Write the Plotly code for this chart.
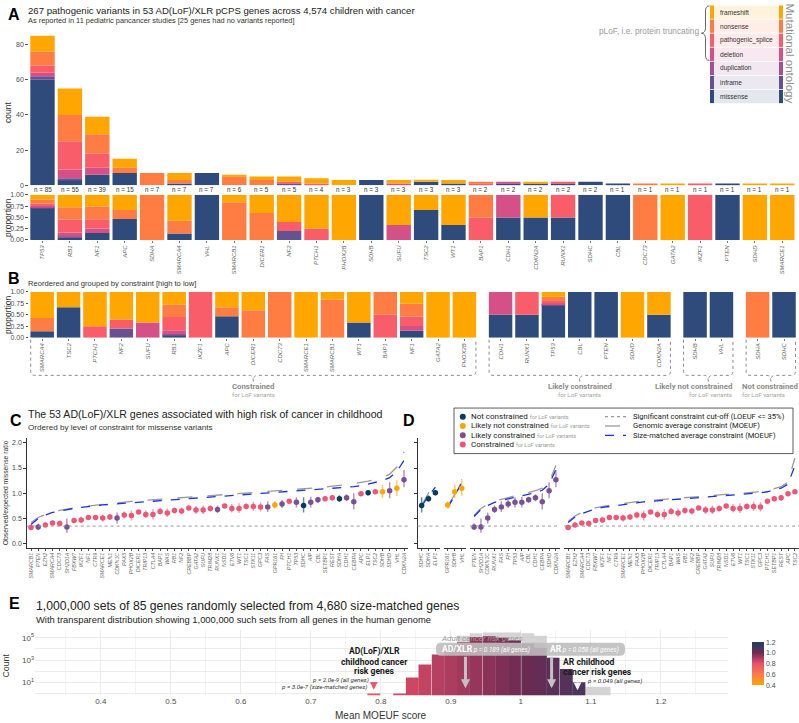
import plotly.graph_objects as go

W, H = 799, 723
def X(px): return px / W
def Y(py): return 1 - py / H
def P(px, py): return f"{X(px):.5f},{Y(py):.5f}"

# ---------------- Panel A / B data ----------------
genes_A = ["TP53","RB1","NF1","APC","SDHA","SMARCA4","VHL","SMARCB1","DICER1","NF2","PTCH1","PHOX2B","SDHB","SUFU",
           "TSC2","WT1","BAP1","CDH1","CDKN2A","RUNX1","SDHC","CBL","CDC73","GATA2","IKZF1","PTEN","SDHD","SMARCE1"]
categories = ["missense","inframe","duplication","deletion","pathogenic_splice","nonsense","frameshift"]
missense    = [60,3,6,7,0,1,7,0,0,0,0,0,3,0,2,1,0,1,1,1,2,1,0,0,0,1,0,0]
inframe     = [2,1,0,0,0,0,0,0,0,1,0,0,0,0,0,0,0,0,0,0,0,0,0,0,0,0,0,0]
duplication = [0,0,0,0,0,0,0,0,0,0,0,0,0,0,0,0,0,0,0,0,0,0,0,0,0,0,0,0]
deletion    = [2,5,4,0,0,0,0,0,0,0,0,0,0,1,0,0,0,1,0,0,0,0,0,0,0,0,0,0]
splice      = [4,16,8,0,0,0,0,0,0,1,1,0,0,0,0,0,1,0,0,1,0,0,0,0,1,0,0,0]
nonsense    = [8,15,11,3,7,2,0,5,3,0,0,0,0,0,0,0,1,0,0,0,0,0,1,0,0,0,0,0]
frameshift  = [9,15,10,5,0,4,0,1,2,3,3,3,0,2,1,2,0,0,1,0,0,0,0,1,0,0,1,1]
counts = {"missense": missense, "inframe": inframe, "duplication": duplication, "deletion": deletion,
          "pathogenic_splice": splice, "nonsense": nonsense, "frameshift": frameshift}

genes_B = ["SMARCA4","TSC2","PTCH1","NF2","SUFU","RB1","IKZF1","APC","DICER1","CDC73","SMARCE1","SMARCB1","WT1","BAP1",
           "NF1","GATA2","PHOX2B","CDH1","RUNX1","TP53","CBL","PTEN","SDHD","CDKN2A","SDHB","VHL","SDHA","SDHC"]
group_sizes_B = [17, 7, 2, 2]
group_names_B = ["Constrained", "Likely constrained", "Likely not constrained", "Not constrained"]

# ---------------- Panel C / D data ----------------
genes_C = ["SMARCB1","PTEN","EZH2","SMARCA4","CDC73","SH2D1A","FBXW7","IKZF1","NF1","CTR9","SMARCE1","MEN1","CDKN1C",
           "PAX5","PHOX2B","DICER1","TRIP13","CTLA4","BAP1","WAS","RB1","NF2","CREBBP","GATA2","SUFU","TRIM28","RUNX1",
           "NSD1","ETV6","WT1","TSC1","STK11","GPC3","FAS","GPR161","FH","PTCH1","TP53","SDHC","AIP","CBL","SETBP1",
           "REST","SDHA","CDH1","CEBPA","APC","ELP1","TSC2","SDHB","SDHD","VHL","CDKN2A"]
oe_mis = [0.32,0.33,0.37,0.41,0.40,0.33,0.46,0.47,0.52,0.52,0.51,0.53,0.51,0.57,0.56,0.63,0.58,0.58,0.64,0.61,0.66,
          0.65,0.71,0.67,0.67,0.70,0.68,0.75,0.70,0.70,0.74,0.74,0.73,0.73,0.77,0.79,0.84,0.82,0.76,0.82,0.87,0.89,
          0.91,0.89,0.91,0.83,0.99,1.01,1.03,1.03,1.05,1.10,1.27]
oe_lo = [0.28,0.27,0.33,0.38,0.34,0.22,0.41,0.41,0.49,0.48,0.44,0.47,0.40,0.50,0.46,0.59,0.51,0.48,0.58,0.53,0.60,
         0.58,0.68,0.59,0.59,0.64,0.61,0.71,0.62,0.61,0.68,0.65,0.64,0.63,0.70,0.71,0.80,0.72,0.62,0.72,0.81,0.84,
         0.85,0.83,0.84,0.68,0.96,0.96,1.00,0.90,0.90,0.95,1.12]
oe_hi = [0.37,0.40,0.41,0.44,0.46,0.50,0.51,0.54,0.55,0.57,0.58,0.59,0.62,0.64,0.66,0.67,0.66,0.69,0.71,0.70,0.72,
         0.72,0.74,0.75,0.76,0.76,0.76,0.79,0.79,0.80,0.80,0.83,0.82,0.84,0.84,0.87,0.88,0.92,0.92,0.93,0.93,0.94,
         0.97,0.96,0.98,1.00,1.02,1.06,1.06,1.17,1.22,1.26,1.46]
lof_class = ["C","LC","C","C","C","LC","C","C","C","C","C","C","LC","C","C","C","C","C","C","C","C","C","C","C","C",
             "C","LC","C","C","C","C","C","C","LC","LNC","LC","C","LC","NC","LC","LC","C","C","NC","LC","LC","C","NC",
             "C","LNC","LC","LNC","LC"]
genomic_avg_C = [0.42,0.52,0.58,0.63,0.66,0.69,0.71,0.73,0.75,0.77,0.78,0.79,0.81,0.83,0.84,0.85,0.86,0.87,0.88,0.89,
                 0.90,0.91,0.92,0.93,0.94,0.95,0.96,0.97,0.98,0.99,1.00,1.01,1.02,1.03,1.04,1.05,1.06,1.07,1.09,1.10,
                 1.11,1.12,1.14,1.15,1.17,1.19,1.21,1.24,1.27,1.31,1.38,1.52,1.82]
size_matched_C = [0.38,0.50,0.57,0.62,0.65,0.68,0.70,0.72,0.74,0.75,0.77,0.78,0.79,0.81,0.82,0.83,0.84,0.85,0.86,0.87,
                  0.88,0.89,0.89,0.90,0.91,0.92,0.93,0.94,0.95,0.96,0.97,0.98,0.99,1.00,1.01,1.02,1.03,1.04,1.05,1.06,
                  1.07,1.08,1.09,1.10,1.12,1.13,1.15,1.18,1.21,1.25,1.31,1.43,1.65]
d_groups = ["NC", "LNC", "LC", "C"]
genomic_avg_D_NC = [0.76, 1.00, 1.25]
size_matched_D_NC = [0.74, 0.95, 1.12]
genomic_avg_D_LNC = [0.74, 0.98, 1.28]
size_matched_D_LNC = [0.72, 0.95, 1.22]
genomic_avg_D_LC = [0.56,0.70,0.78,0.84,0.88,0.92,0.95,0.98,1.01,1.05,1.10,1.22,1.55]
size_matched_D_LC = [0.54,0.68,0.76,0.82,0.86,0.89,0.92,0.95,0.98,1.01,1.06,1.18,1.47]
genomic_avg_D_C = [0.44,0.55,0.62,0.67,0.71,0.74,0.76,0.78,0.80,0.82,0.83,0.85,0.86,0.87,0.88,0.89,0.90,0.91,0.92,
                   0.93,0.94,0.95,0.96,0.97,0.98,0.99,1.00,1.02,1.04,1.06,1.09,1.13,1.22,1.70]
size_matched_D_C = [0.42,0.53,0.60,0.65,0.69,0.72,0.74,0.76,0.78,0.80,0.81,0.83,0.84,0.85,0.86,0.87,0.88,0.89,0.90,
                    0.91,0.92,0.93,0.94,0.95,0.96,0.97,0.98,0.99,1.01,1.03,1.06,1.10,1.18,1.55]

# ---------------- Panel E data ----------------
moeuf_bins = [0.790,0.808,0.827,0.845,0.863,0.882,0.900,0.918,0.936,0.955,0.973,0.991,1.010,1.028,1.046,1.065,
              1.083,1.101,1.119]
counts_size_matched = [1,0,1,28,400,3200,16000,40000,120000,140000,100000,60000,30000,12000,1600,160,10,0,0]
counts_all_genes = [0,0,0,0,0,100,20000,150000,250000,300000,300000,300000,250000,150000,1600,80,10,4,4]

# ---------------- styling ----------------
ont_colors = {"missense": "#2f4b7c", "inframe": "#665191", "duplication": "#a05195", "deletion": "#d45087",
              "pathogenic_splice": "#f95d6a", "nonsense": "#ff7c43", "frameshift": "#ffa600"}
cls_colors = {"NC": "#003f5c", "LNC": "#ffa600", "LC": "#7a5195", "C": "#ef5675"}
cls_rgba = {"NC": "rgba(0,63,92,0.6)", "LNC": "rgba(255,166,0,0.6)", "LC": "rgba(122,81,149,0.6)",
            "C": "rgba(239,86,117,0.55)"}
FONT = "Liberation Sans, Arial, sans-serif"
ROBO = "Roboto, sans-serif"
GREY = "#4d4d4d"

fig = go.Figure()

# ---- Panel A: counts and proportions ----
xA = list(range(len(genes_A)))
totals = [sum(counts[c][i] for c in categories) for i in xA]
base_c = [0] * len(xA)
base_p = [0.0] * len(xA)
for c in categories:
    vals = counts[c]
    props = [v / t for v, t in zip(vals, totals)]
    fig.add_bar(x=xA, y=vals, base=list(base_c), xaxis="x", yaxis="y", width=0.89,
                marker=dict(color=ont_colors[c], line=dict(width=0)), name=c, hoverinfo="skip")
    fig.add_bar(x=xA, y=props, base=list(base_p), xaxis="x2", yaxis="y2", width=0.89,
                marker=dict(color=ont_colors[c], line=dict(width=0)), name=c, hoverinfo="skip")
    base_c = [b + v for b, v in zip(base_c, vals)]
    base_p = [b + v for b, v in zip(base_p, props)]

# ---- Panel B ----
GAP = 0.37
xB = []
k = 0
for gi, n in enumerate(group_sizes_B):
    for j in range(n):
        xB.append(k + GAP * gi)
        k += 1
idxB = [genes_A.index(g) for g in genes_B]
baseB = [0.0] * len(genes_B)
for c in categories:
    props = [counts[c][i] / totals[i] for i in idxB]
    fig.add_bar(x=xB, y=props, base=list(baseB), xaxis="x3", yaxis="y3", width=0.89,
                marker=dict(color=ont_colors[c], line=dict(width=0)), hoverinfo="skip")
    baseB = [b + p for b, p in zip(baseB, props)]

# ---- Panel C ----
xC = list(range(len(genes_C)))
fig.add_scatter(x=xC, y=genomic_avg_C, mode="lines", xaxis="x4", yaxis="y4",
                line=dict(color="#9a9a9a", width=1.3, dash="longdash"), hoverinfo="skip")
fig.add_scatter(x=xC, y=size_matched_C, mode="lines", xaxis="x4", yaxis="y4",
                line=dict(color="#1f2ff0", width=1.3, dash="dash"), hoverinfo="skip")
for cl in d_groups:
    ii = [i for i in xC if lof_class[i] == cl]
    fig.add_scatter(x=ii, y=[oe_mis[i] for i in ii], mode="markers", xaxis="x4", yaxis="y4",
                    marker=dict(color=cls_colors[cl], size=5.5),
                    error_y=dict(type="data", symmetric=False, array=[oe_hi[i] - oe_mis[i] for i in ii],
                                 arrayminus=[oe_mis[i] - oe_lo[i] for i in ii], thickness=1.5, width=0,
                                 color=cls_rgba[cl]), hoverinfo="skip")

# ---- Panel D ----
d_lines = {"NC": (genomic_avg_D_NC, size_matched_D_NC), "LNC": (genomic_avg_D_LNC, size_matched_D_LNC),
           "LC": (genomic_avg_D_LC, size_matched_D_LC), "C": (genomic_avg_D_C, size_matched_D_C)}
d_axes = ["x5", "x6", "x7", "x8"]
d_ticks = {}
for ax, cl in zip(d_axes, d_groups):
    ii = [i for i in xC if lof_class[i] == cl]
    xs = list(range(len(ii)))
    d_ticks[ax] = [genes_C[i] for i in ii]
    g, s = d_lines[cl]
    fig.add_scatter(x=xs, y=g, mode="lines", xaxis=ax, yaxis="y5",
                    line=dict(color="#9a9a9a", width=1.3, dash="longdash"), hoverinfo="skip")
    fig.add_scatter(x=xs, y=s, mode="lines", xaxis=ax, yaxis="y5",
                    line=dict(color="#1f2ff0", width=1.3, dash="dash"), hoverinfo="skip")
    fig.add_scatter(x=xs, y=[oe_mis[i] for i in ii], mode="markers", xaxis=ax, yaxis="y5",
                    marker=dict(color=cls_colors[cl], size=5.5),
                    error_y=dict(type="data", symmetric=False, array=[oe_hi[i] - oe_mis[i] for i in ii],
                                 arrayminus=[oe_mis[i] - oe_lo[i] for i in ii], thickness=1.5, width=0,
                                 color=cls_rgba[cl]), hoverinfo="skip")

# ---- Panel E ----
fig.add_bar(x=moeuf_bins, y=[c if c > 0 else None for c in counts_all_genes], xaxis="x9", yaxis="y9",
            width=0.0183, marker=dict(color="rgba(205,205,205,0.85)", line=dict(width=0)), hoverinfo="skip")
fig.add_bar(x=moeuf_bins, y=[c if c > 0 else None for c in counts_size_matched], xaxis="x9", yaxis="y9",
            width=0.0183, hoverinfo="skip",
            marker=dict(color=moeuf_bins, cmin=0.4, cmax=1.2, line=dict(width=0),
                        colorscale=[[0, "#ffa600"], [0.25, "#fb7a4f"], [0.5, "#e8506b"], [0.75, "#6e2a52"],
                                    [1, "#1d4266"]],
                        showscale=True,
                        colorbar=dict(x=X(742), xanchor="left", y=Y(698), yanchor="bottom", len=64 / H,
                                      lenmode="fraction", thickness=12, outlinewidth=0, ticks="",
                                      tickvals=[0.4, 0.6, 0.8, 1.0, 1.2], ticktext=["0.4", "0.6", "0.8", "1.0", "1.2"],
                                      tickfont=dict(size=7, color=GREY, family=FONT))))

# ---------------- axes ----------------
tick_small = dict(size=7, color=GREY, family=FONT)
def gene_ticks(names):
    return [f"<i>{n}</i>" for n in names]

layout_axes = dict(
    xaxis=dict(domain=[X(28.8), X(796)], range=[-0.5, 27.5], anchor="y", showticklabels=False, ticks="",
               showgrid=False, zeroline=False),
    yaxis=dict(domain=[Y(183), Y(28)], range=[0, 87.3], anchor="x", tickvals=[0, 20, 40, 60, 80], ticks="outside",
               ticklen=2.5, tickcolor="#555", tickfont=tick_small, showgrid=False, zeroline=False),
    xaxis2=dict(domain=[X(28.8), X(796)], range=[-0.5, 27.5], anchor="y2", tickvals=xA,
                ticktext=gene_ticks(genes_A), tickangle=-90, ticks="outside", ticklen=2, tickcolor="#777",
                tickfont=dict(size=6, color="#666", family=FONT), showgrid=False, zeroline=False),
    yaxis2=dict(domain=[Y(238.3), Y(192.7)], range=[0, 1], anchor="x2", tickvals=[0, 0.25, 0.5, 0.75, 1],
                ticktext=["0.00", "0.25", "0.50", "0.75", "1.00"], ticks="outside", ticklen=2.5, tickcolor="#555",
                tickfont=tick_small, showgrid=False, zeroline=False),
    xaxis3=dict(domain=[X(29), X(797.2)], range=[-0.5, xB[-1] + 0.5], anchor="y3", tickvals=xB,
                ticktext=gene_ticks(genes_B), tickangle=-90, ticks="outside", ticklen=2, tickcolor="#777",
                tickfont=dict(size=6, color="#666", family=FONT), showgrid=False, zeroline=False),
    yaxis3=dict(domain=[Y(337), Y(290.7)], range=[0, 1], anchor="x3", tickvals=[0, 0.25, 0.5, 0.75, 1],
                ticktext=["0.00", "0.25", "0.50", "0.75", "1.00"], ticks="outside", ticklen=2.5, tickcolor="#555",
                tickfont=tick_small, showgrid=False, zeroline=False),
    xaxis4=dict(domain=[X(26.7), X(408.3)], range=[-0.6, 52.6], anchor="y4", tickvals=xC,
                ticktext=gene_ticks(genes_C), tickangle=-90, ticks="outside", ticklen=2, tickcolor="#555",
                tickfont=dict(size=5.3, color="#666", family=FONT), showline=True, linecolor="#333",
                linewidth=1, showgrid=False, zeroline=False),
    yaxis4=dict(domain=[Y(549), Y(438)], range=[-0.078, 2.1], anchor="x4", tickvals=[0, 0.5, 1, 1.5, 2],
                ticktext=["0.0", "0.5", "1.0", "1.5", "2.0"], ticks="outside", ticklen=2.5, tickcolor="#333",
                tickfont=tick_small, showline=True, linecolor="#333", linewidth=1, showgrid=False, zeroline=False),
    yaxis5=dict(domain=[Y(549), Y(438)], range=[-0.078, 2.1], anchor="x5", tickvals=[0, 0.5, 1, 1.5, 2],
                showticklabels=False, ticks="outside", ticklen=2.5, tickcolor="#333", showline=True,
                linecolor="#333", linewidth=1, showgrid=False, zeroline=False),
    xaxis9=dict(domain=[X(35), X(728)], range=[0.306, 1.296], anchor="y9",
                tickvals=[0.4, 0.5, 0.6, 0.7, 0.8, 0.9, 1.0, 1.1, 1.2], ticks="",
                tickfont=dict(size=8, color=GREY, family=FONT), showgrid=True, gridcolor="#ebebeb", gridwidth=1,
                minor=dict(dtick=0.05, tick0=0.35, showgrid=True, gridcolor="#f3f3f3", gridwidth=0.6),
                zeroline=False, showline=False),
    yaxis9=dict(domain=[Y(698), Y(632)], type="log", range=[-0.156, 5.71], anchor="x9",
                tickvals=[1, 10, 100, 1000, 10000, 100000],
                ticktext=["", "10<sup>1</sup>", "", "10<sup>3</sup>", "", "10<sup>5</sup>"], ticks="",
                tickfont=dict(size=8, color=GREY, family=FONT), showgrid=True, gridcolor="#ebebeb",
                zeroline=False, showline=False),
)
d_domains = {"x5": (417.5, 439.5, 2), "x6": (443.5, 466, 2), "x7": (470, 560, 12), "x8": (564, 799, 33)}
for ax, (a, b, n) in d_domains.items():
    layout_axes["xaxis" + ax[1:]] = dict(domain=[X(a), X(b)], range=[-0.6, n + 0.6], anchor="y5",
                                        tickvals=list(range(n + 1)), ticktext=gene_ticks(d_ticks[ax]),
                                        tickangle=-90, ticks="outside", ticklen=2, tickcolor="#555",
                                        tickfont=dict(size=5.3, color="#666", family=FONT), showline=True,
                                        linecolor="#333", linewidth=1, showgrid=False, zeroline=False)

fig.update_layout(width=W, height=H, margin=dict(l=0, r=0, t=0, b=0), showlegend=False, barmode="overlay",
                  plot_bgcolor="white", paper_bgcolor="white", font=dict(family=FONT, color="#222"),
                  **layout_axes)

# ---------------- annotations helpers ----------------
def ann(text, px, py, size=8, color="#222", xanchor="left", yanchor="middle", family=FONT, angle=0):
    fig.add_annotation(text=text, x=X(px), y=Y(py), xref="paper", yref="paper", showarrow=False,
                       font=dict(size=size, color=color, family=family), xanchor=xanchor, yanchor=yanchor,
                       textangle=angle, borderpad=0)

def rect(x0, y0, x1, y1, fill, line=None, lw=0):
    fig.add_shape(type="rect", x0=X(x0), x1=X(x1), y0=Y(y1), y1=Y(y0), xref="paper", yref="paper",
                  fillcolor=fill, line=dict(color=line or fill, width=lw))

# panel letters & titles
ann("<b>A</b>", 7, 11, size=16, color="#000", family="Liberation Sans, Arial")
ann("267 pathogenic variants in 53 AD(LoF)/XLR pCPS genes across 4,574 children with cancer", 27, 6.5, size=9.6)
ann("As reported in 11 pediatric pancancer studies [25 genes had no variants reported]", 27, 17, size=7.4,
    color="#333")
ann("count", 8, 110, size=8.5, color="#333", xanchor="center", angle=-90)
ann("proportion", 8, 216, size=8.5, color="#333", xanchor="center", angle=-90)
for i, t in enumerate(totals):
    px = 28.8 + (i + 0.5) * (796 - 28.8) / 28
    ann(f"n = {t}", px, 187.5, size=6.3, color="#333", xanchor="center")

# Mutational ontology legend
for r, c in enumerate(reversed(categories)):
    top = 1.5 + r * 14.2
    bot = top + 13.4
    col = ont_colors[c]
    rgb = tuple(int(col[k:k + 2], 16) for k in (1, 3, 5))
    rect(714, top, 779, bot, f"rgba({rgb[0]},{rgb[1]},{rgb[2]},0.13)")
    rect(710, top, 714, bot, col)
    rect(779, top, 783, bot, col)
    ann(c, 719, (top + bot) / 2, size=6.6, color="#333")
ann("Mutational ontology", 790, 50, size=11.5, color="#909090", xanchor="center", angle=90)
ann("pLoF, i.e. protein truncating", 700, 27, size=8.3, color="#9a9a9a", xanchor="right")
brace = (f"M {P(709.5,2)} Q {P(705.5,2)} {P(705.5,7)} L {P(705.5,24)} Q {P(705.5,29)} {P(701.5,29.5)} "
         f"Q {P(705.5,30)} {P(705.5,35)} L {P(705.5,52)} Q {P(705.5,57)} {P(709.5,57)}")
fig.add_shape(type="path", path=brace, xref="paper", yref="paper", line=dict(color="#555", width=0.9))

# Panel B
ann("<b>B</b>", 7, 277, size=16, color="#000", family="Liberation Sans, Arial")
ann("Reordered and grouped by constraint [high to low]", 27, 282.5, size=7.6, color="#333")
ann("proportion", 8, 314, size=8.5, color="#333", xanchor="center", angle=-90)
def bx(v):
    return 29 + (v + 0.5) / (xB[-1] + 1.0) * (797.2 - 29)
start = 0
for gi, n in enumerate(group_sizes_B):
    L = bx(xB[start]) - 11.5
    R = bx(xB[start + n - 1]) + 11.5
    C = (L + R) / 2
    path = (f"M {P(L,339)} L {P(L,371)} Q {P(L,375)} {P(L+4,375)} L {P(C-4,375)} Q {P(C,375)} {P(C,381)} "
            f"Q {P(C,375)} {P(C+4,375)} L {P(R-4,375)} Q {P(R,375)} {P(R,371)} L {P(R,339)}")
    fig.add_shape(type="path", path=path, xref="paper", yref="paper",
                  line=dict(color="#8a8a8a", width=1, dash="dot"))
    if gi == 2:
        lx, xa = R, "right"
    elif gi == 3:
        lx, xa = L - 5, "left"
    else:
        lx, xa = C, "center"
    ann(f"<b>{group_names_B[gi]}</b>", lx, 386.5, size=7.8, color="#8c8c8c", xanchor=xa, family=ROBO)
    ann("for LoF variants", lx, 394.5, size=6.2, color="#a5a5a5", xanchor=xa, family=ROBO)
    start += n

# Panel C / D
ann("<b>C</b>", 9, 421, size=16, color="#000", family="Liberation Sans, Arial")
ann("The 53 AD(LoF)/XLR genes associated with high risk of cancer in childhood", 27, 414, size=10.6)
ann("Ordered by level of constraint for missense variants", 27, 428, size=8.1, color="#333")
ann("<b>D</b>", 402, 421, size=16, color="#000", family="Liberation Sans, Arial")
ann("Observed/expected missense ratio", 6, 494, size=6.8, color="#333", xanchor="center", angle=-90)
for xr, yr in [("x4", "y4"), ("x5", "y5"), ("x6", "y5"), ("x7", "y5"), ("x8", "y5")]:
    fig.add_shape(type="line", xref=f"{xr} domain", x0=0, x1=1, yref=yr, y0=0.35, y1=0.35,
                  line=dict(color="#9a9a9a", width=1, dash="dot"))

# C/D legend
rect(454, 408, 793, 454, "white", line="#333", lw=0.8)
leg_items = [("NC", "Not constrained"), ("LNC", "Likely not constrained"), ("LC", "Likely constrained"),
             ("C", "Constrained")]
for r, (cl, lab) in enumerate(leg_items):
    yy = 416.7 + r * 9.4
    fig.add_shape(type="circle", x0=X(459.8), x1=X(465.8), y0=Y(yy + 3), y1=Y(yy - 3), xref="paper",
                  yref="paper", fillcolor=cls_colors[cl], line=dict(width=0))
    ann(f"{lab} <span style='font-size:5.6px;color:#9a9a9a'>for LoF variants</span>", 470, yy, size=8,
        color="#222", family=ROBO)
line_items = [("dot", "#9a9a9a", "Significant constraint cut-off (LOEUF <= 35%)"),
              ("longdash", "#9a9a9a", "Genomic average constraint (MOEUF)"),
              ("dash", "#1f2ff0", "Size-matched average constraint (MOEUF)")]
for r, (dsh, col, lab) in enumerate(line_items):
    yy = 416.7 + r * 9.4
    fig.add_shape(type="line", x0=X(605), x1=X(626), y0=Y(yy), y1=Y(yy), xref="paper", yref="paper",
                  line=dict(color=col, width=1.3, dash=dsh))
    ann(lab, 631.5, yy, size=7.6, color="#222", family=ROBO)

# Panel E
ann("<b>E</b>", 8, 605, size=16, color="#000", family="Liberation Sans, Arial")
ann("1,000,000 sets of 85 genes randomly selected from 4,680 size-matched genes", 35, 607.5, size=12.2)
ann("With transparent distribution showing 1,000,000 such sets from all genes in the human genome", 35, 622,
    size=9.4, color="#222")
ann("Count", 6, 668, size=8.8, color="#333", xanchor="center", angle=-90)
ann("Mean MOEUF score", 381, 718, size=10, color="#333", xanchor="center")

for txt, yy in [("AD(LoF)/XLR", 654.3), ("childhood cancer", 664), ("risk genes", 673.7)]:
    ann(f"<b>{txt}</b>", 374, yy, size=8.6, color="#1a1a1a", xanchor="center", family=ROBO)
fig.add_annotation(x=0.79, y=Y(692.5), xref="x9", yref="paper", ax=0, ay=-9, showarrow=True, arrowhead=2,
                   arrowsize=0.7, arrowwidth=2.2, arrowcolor="#ef5675", text="")
ann("<i>p = 2.0e-9 (all genes)</i>", 370, 683, size=6.2, color="#333", xanchor="right", family=ROBO)
ann("<i>p = 3.0e-7 (size-matched genes)</i>", 368, 689.5, size=6.2, color="#333", xanchor="right", family=ROBO)

x0, y0, x1, y1, rr = 436, 645, 625, 658, 5
box = (f"M {P(x0+rr,y0)} L {P(x1-rr,y0)} Q {P(x1,y0)} {P(x1,y0+rr)} L {P(x1,y1-rr)} Q {P(x1,y1)} {P(x1-rr,y1)} "
       f"L {P(x0+rr,y1)} Q {P(x0,y1)} {P(x0,y1-rr)} L {P(x0,y0+rr)} Q {P(x0,y0)} {P(x0+rr,y0)} Z")
fig.add_shape(type="path", path=box, xref="paper", yref="paper", fillcolor="rgba(190,190,190,0.9)",
              line=dict(width=0))
ann("<i>Adult cancer risk genes</i>", 440, 641, size=8, color="#9a9a9a", family=ROBO)
ann("<b>AD/XLR</b><span style='font-size:6.4px'><i> p = 0.189 (all genes)</i></span>", 441, 651.5, size=8.6,
    color="white", family=ROBO)
ann("<b>AR</b><span style='font-size:6.4px'><i> p = 0.058 (all genes)</i></span>", 549, 651.5, size=8.6,
    color="white", family=ROBO)
for v in (0.921, 1.044):
    fig.add_annotation(x=v, y=Y(691), xref="x9", yref="paper", ax=0, ay=-33, showarrow=True, arrowhead=2,
                       arrowsize=0.6, arrowwidth=3, arrowcolor="#c2c2c2", text="")
for txt, yy in [("AR childhood", 664.8), ("cancer risk genes", 674.5)]:
    ann(f"<b>{txt}</b>", 562, yy, size=8.6, color="#1a1a1a", family=ROBO)
fig.add_annotation(x=1.081, y=Y(693), xref="x9", yref="paper", ax=0, ay=-9, showarrow=True, arrowhead=2,
                   arrowsize=0.7, arrowwidth=2.2, arrowcolor="#f4f4f4", text="")
ann("<i>p = 0.049 (all genes)</i>", 586, 684, size=6.2, color="#333", family=ROBO)

fig.write_html("out.html", config={"displayModeBar": False},
               post_script="document.body.style.margin='0';document.body.style.overflow='hidden';")
